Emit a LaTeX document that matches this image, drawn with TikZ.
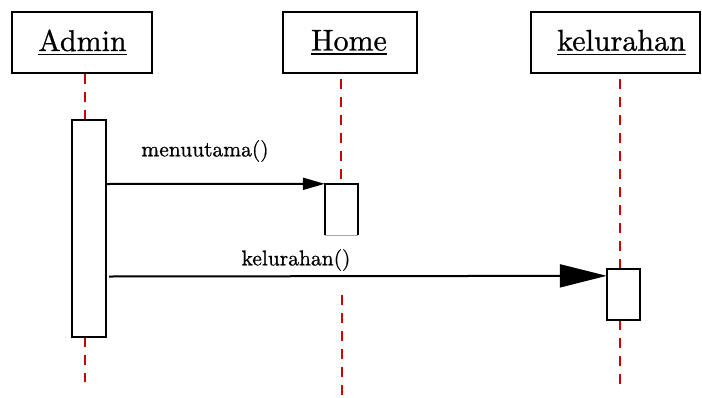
\documentclass[tikz,border=0pt]{standalone}
\usepackage{fontspec}
\newfontfamily\tnrfont{lmroman10-regular.otf}[FakeBold=0.8]
\usetikzlibrary{arrows.meta}
\definecolor{lifered}{HTML}{CC0000}
\newcommand\myul[1]{\setbox0=\hbox{#1}\leavevmode\rlap{\rule[-4.5pt]{\wd0}{1.6pt}}\box0}
\begin{document}
\begin{tikzpicture}[x=1pt,y=-1pt,
  headbox/.style={draw,line width=2pt,minimum width=#1,minimum height=61pt,inner sep=0pt},
  headtext/.style={font=\tnrfont\fontsize{30}{36}\selectfont,inner sep=0pt},
  actbox/.style={fill=white,minimum width=#1,inner sep=0pt},
  lifeline/.style={draw=lifered,line width=2.6pt,dash pattern=on 10pt off 8pt},
  msg/.style={line width=2pt},
  msglabel/.style={font=\tnrfont\fontsize{21.5}{26}\selectfont,inner sep=0pt}
]
\useasboundingbox (0,0) rectangle (702,397);

% header boxes
\node[headbox=140pt] (admin) at (82,42.5) {};
\node[headtext] (adminT) at (82.5,42.5) {\myul{Admin}};
\node[headbox=134pt] (home) at (350,42.5) {};
\node[headtext] (homeT) at (349,42.5) {\myul{Home}};
\node[headbox=169pt] (kel) at (615.5,42.5) {};
\node[headtext] (kelT) at (621.5,42.5) {\myul{kelurahan}};

% activation boxes
\node[actbox=34pt,minimum height=217pt] (act1) at (89,228.5) {};
\node[actbox=33pt,minimum height=51pt] (act2) at (341.5,209.5) {};
\node[actbox=33pt,minimum height=51pt] (act3) at (623.5,294.5) {};

% lifeline coordinates
\coordinate (aTop) at (85,73);
\coordinate (aMid) at (85,120);
\coordinate (aLow) at (85,337);
\coordinate (aEnd) at (85,382);
\coordinate (hTop) at (341,73);
\coordinate (hMid) at (341,184);
\coordinate (hLow) at (342,295);
\coordinate (hEnd) at (342,397);
\coordinate (kTop) at (620,73);
\coordinate (kMid) at (620,269);
\coordinate (kLow) at (620,320);
\coordinate (kEnd) at (620,388);

\draw[lifeline,dash phase=-1pt] (aTop) -- (aMid);
\draw[lifeline] (aLow) -- (aEnd);
\draw[lifeline,dash phase=-6pt] (hTop) -- (hMid);
\draw[lifeline] (hLow) -- (hEnd);
\draw[lifeline,dash phase=-6pt] (kTop) -- (kMid);
\draw[lifeline] (kLow) -- (kEnd);

% activation outlines
\draw[line width=2pt] (act1.south west) rectangle (act1.north east);
\draw[line width=2pt] (act2.south west) -- (act2.north west) -- (act2.north east) -- (act2.south east);
\draw[line width=1pt,gray!70] (act2.south west) -- (act2.south east);
\draw[line width=2pt] (act3.south west) rectangle (act3.north east);

% messages
\coordinate (m1s) at (105,184);
\draw[msg,-{Triangle[length=22pt,width=12pt]}] (m1s) -- (act2.north west);
\node[msglabel] (m1l) at (205,151) {menuutama()};

\coordinate (m2s) at (109,276.5);
\draw[msg,-{Triangle[length=47pt,width=23pt]}] (m2s) -- ([yshift=-7pt]act3.north west);
\node[msglabel] (m2l) at (296,260) {kelurahan()};
\end{tikzpicture}
\end{document}
